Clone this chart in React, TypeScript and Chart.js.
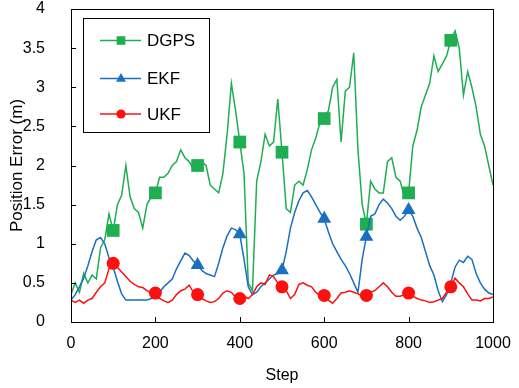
import React, { useEffect, useRef } from "react";
import { Chart, registerables } from "chart.js";

Chart.register(...registerables);

const steps: number[] = [
  0, 10, 20, 30, 40, 50, 60, 70, 80, 90, 100, 110, 120, 130, 140, 150, 160, 170, 180, 190,
  200, 210, 220, 230, 240, 250, 260, 270, 280, 290, 300, 310, 320, 330, 340, 350, 360, 370, 380, 390,
  400, 410, 420, 430, 440, 450, 460, 470, 480, 490, 500, 510, 520, 530, 540, 550, 560, 570, 580, 590,
  600, 610, 620, 630, 640, 650, 660, 670, 680, 690, 700, 710, 720, 730, 740, 750, 760, 770, 780, 790,
  800, 810, 820, 830, 840, 850, 860, 870, 880, 890, 900, 910, 920, 930, 940, 950, 960, 970, 980, 990, 1000,
];

const dgps: number[] = [
  0.35, 0.5, 0.38, 0.62, 0.5, 0.6, 0.55, 0.95, 1.05, 1.38, 1.17, 1.5, 1.62, 2.0, 1.6, 1.45, 1.4, 1.2, 1.5, 1.6,
  1.65, 1.85, 1.85, 1.9, 2.0, 2.05, 2.2, 2.1, 2.05, 1.95, 2.0, 2.05, 2.0, 1.75, 1.7, 1.65, 1.9, 2.4, 3.05, 2.7,
  2.3, 1.9, 0.5, 0.4, 1.8, 2.05, 2.4, 2.25, 2.3, 2.85, 2.17, 1.45, 1.4, 1.75, 1.8, 1.75, 1.95, 2.2, 2.35, 2.55,
  2.6, 2.7, 3.0, 3.1, 2.3, 2.95, 3.0, 3.44, 2.2, 1.5, 1.25, 1.8, 1.7, 1.65, 1.65, 2.05, 2.1, 1.85, 1.8, 1.6,
  1.65, 2.25, 2.45, 2.75, 2.9, 3.05, 3.4, 3.2, 3.3, 3.4, 3.6, 3.72, 3.5, 2.9, 3.2, 3.0, 2.75, 2.4, 2.25, 2.0, 1.75,
];

const ekf: number[] = [
  0.28, 0.35, 0.45, 0.56, 0.72, 0.9, 1.05, 1.08, 1.0, 0.82, 0.7, 0.52, 0.36, 0.28, 0.28, 0.28, 0.28, 0.28, 0.28, 0.3,
  0.36, 0.38, 0.45, 0.5, 0.55, 0.68, 0.78, 0.88, 0.85, 0.78, 0.73, 0.66, 0.62, 0.6, 0.58, 0.75, 0.95, 1.1, 1.2, 1.18,
  1.12, 0.8, 0.45, 0.35, 0.38, 0.45, 0.5, 0.55, 0.6, 0.62, 0.66, 0.9, 1.2, 1.4, 1.55, 1.65, 1.68, 1.6, 1.5, 1.4,
  1.32, 1.15, 1.0, 0.9, 0.8, 0.72, 0.62, 0.5, 0.38, 0.8, 1.09, 1.35, 1.38, 1.5, 1.57, 1.52, 1.45, 1.35, 1.3, 1.35,
  1.43, 1.35, 1.2, 1.08, 0.9, 0.72, 0.6, 0.4, 0.26, 0.35, 0.5, 0.7, 0.79, 0.76, 0.84, 0.8, 0.62, 0.5, 0.42, 0.37, 0.35,
];

const ukf: number[] = [
  0.28, 0.25, 0.28, 0.24, 0.28, 0.3, 0.38, 0.45, 0.5, 0.68, 0.75, 0.7, 0.64, 0.58, 0.52, 0.48, 0.45, 0.44, 0.4, 0.37,
  0.37, 0.3, 0.27, 0.25, 0.28, 0.35, 0.4, 0.42, 0.47, 0.38, 0.35, 0.3, 0.27, 0.25, 0.26, 0.3, 0.37, 0.4, 0.38, 0.32,
  0.3, 0.33, 0.3, 0.35, 0.45, 0.5, 0.48, 0.6, 0.58, 0.5, 0.45, 0.4, 0.3, 0.35, 0.48, 0.5, 0.47, 0.45, 0.38, 0.34,
  0.34, 0.28, 0.24, 0.3, 0.37, 0.38, 0.4, 0.38, 0.36, 0.33, 0.34, 0.38, 0.4, 0.45, 0.5, 0.45, 0.38, 0.33, 0.33, 0.35,
  0.37, 0.33, 0.3, 0.28, 0.27, 0.25, 0.26, 0.28, 0.3, 0.38, 0.45, 0.56, 0.5, 0.45, 0.36, 0.28, 0.28, 0.27, 0.3, 0.3, 0.32,
];

const seriesNames = ["DGPS", "EKF", "UKF"];
const xTicks = [0, 200, 400, 600, 800, 1000];
const yTicks = [0, 0.5, 1, 1.5, 2, 2.5, 3, 3.5, 4];
const markerSteps: number[][] = [
  [100, 200, 300, 400, 500, 600, 700, 800, 900],
  [300, 400, 500, 600, 700, 800],
  [100, 200, 300, 400, 500, 600, 700, 800, 900],
];

const COLORS = ["#1fae52", "#1a6fbf", "#ff1010"];
const STYLES = ["rect", "triangle", "circle"];
const RADII = [9, 8, 6.5];
const FONT = "'Liberation Sans', Arial, sans-serif";

const markerRadius = (i: number) => (ctx: any) => {
  const x = ctx.raw ? ctx.raw.x : -1;
  return markerSteps[i].includes(x) ? RADII[i] : 0;
};

const framePlugin = {
  id: "frame",
  afterDatasetsDraw(chart: any) {
    const { ctx, chartArea } = chart;
    const { left, right, top, bottom } = chartArea;
    const xs = chart.scales.x;
    const ys = chart.scales.y;
    ctx.save();
    ctx.strokeStyle = "#000";
    ctx.lineWidth = 1;
    ctx.strokeRect(Math.round(left) + 0.5, Math.round(top) + 0.5, Math.round(right - left), Math.round(bottom - top));
    ctx.beginPath();
    xTicks.forEach((v) => {
      const px = Math.round(xs.getPixelForValue(v)) + 0.5;
      ctx.moveTo(px, bottom);
      ctx.lineTo(px, bottom - 5);
    });
    yTicks.forEach((v) => {
      const py = Math.round(ys.getPixelForValue(v)) + 0.5;
      ctx.moveTo(left, py);
      ctx.lineTo(left + 5, py);
    });
    ctx.stroke();

    // legend
    const bx = 83.5, by = 18.5, bw = 126, bh = 114;
    ctx.fillStyle = "#fff";
    ctx.fillRect(bx, by, bw, bh);
    ctx.strokeRect(bx, by, bw, bh);
    const rowsY = [40.5, 78.5, 114];
    seriesNames.forEach((name, i) => {
      const y = rowsY[i];
      ctx.strokeStyle = COLORS[i];
      ctx.lineWidth = 1.5;
      ctx.beginPath();
      ctx.moveTo(100, y);
      ctx.lineTo(141, y);
      ctx.stroke();
      ctx.fillStyle = COLORS[i];
      const cx = 121;
      ctx.beginPath();
      if (STYLES[i] === "rect") {
        ctx.rect(cx - 4.3, y - 4.3, 8.6, 8.6);
      } else if (STYLES[i] === "triangle") {
        const r = 5.5;
        ctx.moveTo(cx, y - r);
        ctx.lineTo(cx + r * 0.9, y + r * 0.6);
        ctx.lineTo(cx - r * 0.9, y + r * 0.6);
        ctx.closePath();
      } else {
        ctx.arc(cx, y, 4.6, 0, Math.PI * 2);
      }
      ctx.fill();
      ctx.fillStyle = "#000";
      ctx.font = `17px ${FONT}`;
      ctx.textBaseline = "middle";
      ctx.textAlign = "left";
      ctx.fillText(name, 147, y + 1);
    });
    ctx.restore();
  },
};

const zeroPad = (scale: any) => {
  scale.paddingTop = 0;
  scale.paddingBottom = 0;
  scale.paddingLeft = 0;
  scale.paddingRight = 0;
};

export default function App() {
  const ref = useRef<HTMLCanvasElement>(null);
  useEffect(() => {
    if (!ref.current) return;
    const series = [dgps, ekf, ukf];
    const datasets = series.map((vals, i) => ({
      label: seriesNames[i],
      data: steps.map((s, j) => ({ x: s, y: vals[j] })),
      borderColor: COLORS[i],
      backgroundColor: COLORS[i],
      borderWidth: 1.5,
      pointStyle: STYLES[i],
      pointRadius: markerRadius(i),
      pointHoverRadius: markerRadius(i),
      pointBorderWidth: 0,
      pointBackgroundColor: COLORS[i],
      tension: 0,
      order: 2 - i,
    }));
    const chart = new Chart(ref.current, {
      type: "line",
      data: { datasets },
      plugins: [framePlugin],
      options: {
        animation: false,
        responsive: false,
        events: [],
        layout: { padding: { top: 9, right: 26, left: 0, bottom: 0 } },
        plugins: { legend: { display: false }, tooltip: { enabled: false } },
        scales: {
          x: {
            type: "linear",
            min: 0,
            max: 1000,
            afterBuildTicks: (scale: any) => {
              scale.ticks = xTicks.map((v) => ({ value: v }));
            },
            afterFit: (scale: any) => {
              scale.height = 66;
              zeroPad(scale);
            },
            grid: { display: false, drawTicks: false },
            border: { display: false },
            ticks: {
              color: "#000",
              font: { family: FONT, size: 16 },
              padding: 12,
              maxRotation: 0,
              autoSkip: false,
              callback: (v: any) => String(v),
            },
            title: { display: true, text: "Step", color: "#000", font: { family: FONT, size: 16 }, padding: { top: 4, bottom: 3 } },
          },
          y: {
            type: "linear",
            min: 0,
            max: 4,
            afterBuildTicks: (scale: any) => {
              scale.ticks = yTicks.map((v) => ({ value: v }));
            },
            afterFit: (scale: any) => {
              scale.width = 71;
              zeroPad(scale);
            },
            grid: { display: false, drawTicks: false },
            border: { display: false },
            ticks: { color: "#000", font: { family: FONT, size: 16 }, padding: 26, callback: (v: any) => String(v) },
            title: { display: true, text: "Position Error (m)", color: "#000", font: { family: FONT, size: 17 }, padding: { top: 7, bottom: 4 } },
          },
        },
      },
    } as any);
    return () => chart.destroy();
  }, []);
  return (
    <div style={{ position: "absolute", left: 0, top: 0, width: 519, height: 388, background: "#fff" }}>
      <canvas ref={ref} width={519} height={388} style={{ width: 519, height: 388 }} />
    </div>
  );
}
